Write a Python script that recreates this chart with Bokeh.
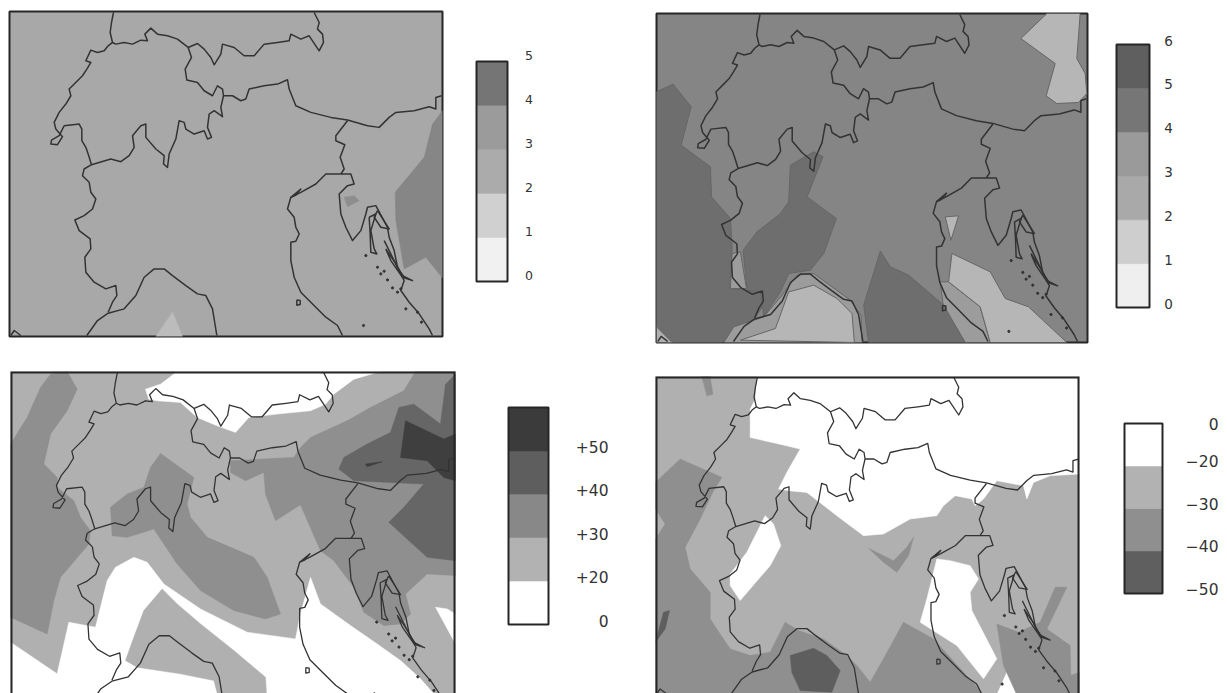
import numpy as np
from bokeh.plotting import figure
from bokeh.layouts import row, column
from bokeh.models import Spacer
from bokeh.core.properties import value
from bokeh.embed import file_html
from bokeh.resources import INLINE

# ---------- border outlines, in the map units of panel 1 ----------
MAP_X = (26, 1325)
MAP_Y = (32, 1008)
B_WEST = [(338,35),(332,65),(328,95),(335,125),(322,135),(310,150),(290,155),(270,148),(262,165),(255,180),(270,185),(258,205),(245,225),(230,240),(205,265),(210,285),(195,310),(175,335),(160,365),(165,385),(185,408),(170,432),(150,430),(152,418),(175,405),(190,375),(235,370),(243,385),(243,420),(255,440),(262,460),(272,492),(250,505),(245,525),(265,545),(270,575),(285,595),(275,625),(250,645),(222,658),(235,690),(268,715),(270,745),(252,770),(255,815),(280,845),(315,865),(345,855),(348,885),(335,905),(322,935)]
B_SWISS = [(272,492),(330,475),(360,483),(385,465),(400,440),(395,405),(420,375),(435,370),(435,410),(465,445),(490,465),(488,490),(500,500),(505,460),(525,415),(535,360),(550,365),(555,385),(580,400),(610,390),(620,415),(632,410),(620,380),(625,340),(640,330),(665,348),(660,320),(668,285),(665,265),(650,255),(635,285),(610,270),(590,245),(558,238),(553,205),(572,170),(562,140)]
B_NORTH = [(335,125),(345,130),(370,125),(395,130),(420,118),(440,120),(432,100),(450,82),(470,100),(500,105),(530,115),(562,140),(590,128),(610,145),(630,170),(640,192),(660,160),(665,130),(700,140),(730,165),(760,165),(790,130),(830,125),(865,120),(870,100),(900,115),(925,105),(955,150),(968,125),(965,100),(950,85),(955,65),(940,35)]
B_AUSTRIA = [(668,285),(695,285),(720,300),(735,295),(745,265),(790,255),(830,250),(860,237),(865,265),(885,315),(930,335),(990,350),(1040,358),(1100,375),(1135,380),(1165,350),(1185,335),(1240,330),(1285,318),(1305,325),(1305,290),(1322,285)]
B_SLOVENIA = [(1040,360),(1005,405),(1005,420),(1032,432),(1018,470),(1030,505),(1020,520)]
B_ITALY_E = [(1020,520),(975,520),(945,550),(900,575),(870,590),(860,625),(880,650),(885,680),(895,700),(885,722),(870,725),(870,780),(880,830),(900,875),(930,905),(975,950),(1010,975),(1025,1005)]
B_ISTRIA = [(1020,520),(1050,520),(1060,550),(1040,555),(1015,580),(1020,640),(1035,680),(1055,720),(1080,690),(1095,640),(1100,620),(1125,615),(1160,680),(1165,710),(1180,750),(1190,800),(1210,840),(1200,870),(1225,905),(1255,940),(1285,985),(1295,1005)]
B_LIGURIA = [(258,1005),(290,960),(322,938),(370,925),(405,885),(430,830),(460,805),(490,805),(515,825),(555,855),(590,880),(615,885),(635,925),(648,1005)]
B_ISLE_1 = [(1105,650),(1125,640),(1110,690),(1120,745),(1128,760),(1110,755),(1108,700),(1105,650)]
B_ISLE_2 = [(1130,630),(1165,685),(1140,680),(1120,650),(1130,630)]
B_ISLE_3 = [(1155,745),(1185,790),(1205,825),(1235,840),(1205,830),(1170,780),(1155,745)]
B_ISLE_4 = [(1150,720),(1175,770),(1195,810),(1210,830)]
B_LAKE = [(888,898),(898,900),(898,912),(888,914),(888,898)]
B_LAGOON = [(870,590),(900,565),(885,583),(870,590)]
B_CORNER = [(30,1005),(40,990),(60,1005)]
BORDERS = [B_WEST, B_SWISS, B_NORTH, B_AUSTRIA, B_SLOVENIA, B_ITALY_E, B_ISTRIA, B_LIGURIA,
           B_ISLE_1, B_ISLE_2, B_ISLE_3, B_ISLE_4, B_LAKE, B_LAGOON, B_CORNER]
ISLET_X = [1095,1130,1140,1150,1160,1175,1190,1200,1215,1250,1262,1088]
ISLET_Y = [765,800,820,812,838,862,875,865,925,935,965,975]

# ---------- panel 1: 0..5 ----------
P1_BASE = "#a8a8a8"
P1_REGIONS = [
    ("#868686", [(1325,330),(1295,370),(1270,470),(1183,575),(1185,660),(1210,805),(1275,770),(1325,832)]),
    ("#bcbcbc", [(465,1008),(515,935),(545,1008)]),
    ("#8e8e8e", [(1030,590),(1060,585),(1075,600),(1040,618)]),
]
P1_BANDS = ["#f1f1f1", "#d0d0d0", "#ababab", "#9b9b9b", "#757575"]
P1_TICKS = [0, 1, 2, 3, 4, 5]
P1_LABELS = ["0", "1", "2", "3", "4", "5"]

# ---------- panel 2: 0..6 ----------
P2_BASE = "#858585"
P2_REGIONS = [
    ("#6e6e6e", [(18,260),(68,237),(122,305),(92,420),(180,485),(183,575),(240,640),(245,730),(238,850),(280,855),(335,860),(335,905),(310,945),(250,985),(215,1012),(50,1012),(18,965)]),
    ("#b0b0b0", [(18,965),(65,1012),(18,1012)]),
    ("#6e6e6e", [(420,480),(490,440),(518,455),(470,575),(558,640),(520,745),(480,795),(415,805),(390,860),(340,935),(330,860),(290,855),(278,735),(320,680),(390,625),(415,590)]),
    ("#9c9c9c", [(245,745),(270,740),(288,850),(240,850)]),
    ("#b6b6b6", [(1190,25),(1290,25),(1280,160),(1305,205),(1310,265),(1285,292),(1220,295),(1188,272),(1215,175),(1112,100)]),
    ("#b6b6b6", [(885,635),(925,632),(902,705)]),
    ("#9c9c9c", [(870,830),(895,830),(990,905),(1020,1012),(945,1012),(880,910)]),
    ("#b6b6b6", [(905,745),(1020,800),(1065,880),(1135,905),(1250,1012),(1020,1012),(990,905),(895,830)]),
    ("#6e6e6e", [(690,738),(720,785),(775,810),(880,900),(945,1012),(655,1012),(640,900)]),
    ("#9c9c9c", [(440,810),(490,805),(600,885),(632,930),(635,1012),(220,1012),(250,965),(340,935),(395,870)]),
    ("#b6b6b6", [(490,840),(560,880),(605,925),(612,1012),(270,1005),(375,970),(415,860)]),
]
P2_BANDS = ["#efefef", "#cecece", "#a9a9a9", "#9a9a9a", "#767676", "#5f5f5f"]
P2_TICKS = [0, 1, 2, 3, 4, 5, 6]
P2_LABELS = ["0", "1", "2", "3", "4", "5", "6"]

# ---------- panel 3: 0..+50 ----------
P3_BASE = "#b0b0b0"
P3_REGIONS = [
    ("#ffffff", [(435,85),(480,70),(530,32),(1140,32),(1060,55),(1000,100),(975,130),(930,150),(830,160),(745,170),(705,215),(650,195),(590,170),(540,125),(470,120),(445,115)]),
    ("#ffffff", [(400,590),(440,605),(490,670),(600,745),(740,815),(885,835),(900,760),(930,650),(960,730),(1050,795),(1130,850),(1200,900),(1260,955),(1330,1034),(30,1034),(30,845),(170,940),(205,785),(285,800),(320,660),(345,620)]),
    ("#ffffff", [(1305,740),(1340,745),(1365,760),(1365,850)]),
    ("#b0b0b0", [(485,685),(530,730),(600,790),(700,870),(795,950),(800,1034),(660,1034),(640,960),(540,940),(410,920),(375,900),(400,830),(430,750)]),
    ("#8f8f8f", [(150,40),(200,32),(230,85),(200,150),(150,220),(130,310),(170,350),(170,380),(220,420),(240,470),(270,510),(265,550),(180,650),(160,720),(140,820),(30,770),(30,250),(80,170),(120,80)]),
    ("#8f8f8f", [(480,278),(580,350),(560,430),(570,470),(620,530),(760,590),(800,650),(840,760),(795,775),(700,750),(600,690),(530,610),(460,505),(380,530),(335,525),(330,440),(380,400),(430,380),(450,320)]),
    ("#8f8f8f", [(690,300),(880,290),(900,260),(930,230),(1040,180),(1110,140),(1210,90),(1245,32),(1365,32),(1365,645),(1280,640),(1215,700),(1230,760),(1200,790),(1150,795),(1090,755),(1060,680),(1000,600),(960,570),(925,490),(900,432),(825,480),(795,400),(790,335),(735,360),(690,335)]),
    ("#666666", [(1015,325),(1030,290),(1100,250),(1170,215),(1195,140),(1240,130),(1320,190),(1335,70),(1365,40),(1365,600),(1280,590),(1165,485),(1210,440),(1270,370),(1170,365),(1060,360)]),
    ("#3f3f3f", [(1215,180),(1330,235),(1365,220),(1365,360),(1330,350),(1280,300),(1200,290)]),
    ("#3f3f3f", [(1095,310),(1145,303),(1100,318)]),
]
P3_BANDS = ["#ffffff", "#b2b2b2", "#888888", "#5e5e5e", "#3b3b3b"]
P3_TICKS = [0, 1, 2, 3, 4]
P3_LABELS = ["0", "+20", "+30", "+40", "+50"]

# ---------- panel 4: 0..-50 ----------
P4_BASE = "#b0b0b0"
P4_REGIONS = [
    ("#ffffff", [(320,32),(1288,32),(1288,325),(1200,330),(1150,350),(1130,400),(1120,360),(1040,345),(1000,400),(975,420),(965,400),(915,390),(880,420),(860,450),(780,460),(700,505),(640,510),(560,450),(470,380),(415,375),(385,370),(410,320),(450,250),(400,238),(300,215),(300,130),(315,100)]),
    ("#ffffff", [(345,450),(370,475),(392,540),(360,600),(270,705),(240,660),(240,625),(290,560),(330,480)]),
    ("#ffffff", [(860,580),(900,585),(960,600),(985,640),(960,680),(965,735),(1040,880),(1000,940),(920,840),(810,770),(830,700)]),
    ("#ffffff", [(1070,920),(1110,988),(1040,988)]),
    ("#8f8f8f", [(16,350),(90,280),(215,335),(190,375),(150,460),(105,545),(120,610),(180,680),(180,760),(240,850),(300,870),(360,860),(405,770),(445,795),(520,820),(590,870),(620,900),(660,950),(700,880),(760,770),(850,820),(990,975),(1000,988),(16,988),(16,520),(45,475),(16,430)]),
    ("#8f8f8f", [(1040,775),(1105,800),(1170,770),(1215,665),(1250,665),(1190,790),(1260,840),(1262,930),(1288,920),(1288,988),(1100,988),(1060,900)]),
    ("#8f8f8f", [(655,548),(730,585),(770,545),(790,515),(775,570),(740,620),(700,590)]),
    ("#8f8f8f", [(155,32),(180,32),(188,85),(170,90)]),
    ("#5e5e5e", [(420,870),(490,848),(530,870),(570,915),(545,980),(450,975),(425,920)]),
    ("#5e5e5e", [(16,830),(40,740),(58,735),(45,790)]),
]
P4_BANDS = ["#5f5f5f", "#8f8f8f", "#b2b2b2", "#ffffff"]
P4_TICKS = [0, 1, 2, 3, 3.88]
P4_LABELS = ["\u221250", "\u221240", "\u221230", "\u221220", "0"]


def map_panel(w, h, nx, ny, clip_y, base, regions, region_line=None, lw=1.5):
    """frame of w*h px; native coordinates nx, ny; ny is the full height, clip_y where the page cuts it."""
    cut = clip_y is not None
    y_bottom = clip_y if cut else ny[1]
    p = figure(width=w + 4, height=h + 2 + (0 if cut else 2), output_backend="svg", toolbar_location=None,
               x_range=(nx[0], nx[1]), y_range=(y_bottom, ny[0]),
               min_border_left=2, min_border_right=2, min_border_top=2, min_border_bottom=0 if cut else 2,
               x_axis_location=None, y_axis_location=None,
               background_fill_color=base, border_fill_color="white",
               outline_line_color=None if cut else "#262626", outline_line_width=2)
    p.grid.visible = False
    for col, pts in regions:
        xs, ys = zip(*pts)
        p.patch(list(xs), list(ys), fill_color=col, line_color=region_line or col, line_width=1 if region_line else 0.5)
    sx = (nx[1] - nx[0]) / (MAP_X[1] - MAP_X[0])
    sy = (ny[1] - ny[0]) / (MAP_Y[1] - MAP_Y[0])
    mx = [[nx[0] + (a - MAP_X[0]) * sx for a, _ in seg] for seg in BORDERS]
    my = [[ny[0] + (b - MAP_Y[0]) * sy for _, b in seg] for seg in BORDERS]
    p.multi_line(mx, my, line_color="#333333", line_width=lw, line_join="round")
    p.scatter([nx[0] + (a - MAP_X[0]) * sx for a in ISLET_X], [ny[0] + (b - MAP_Y[0]) * sy for b in ISLET_Y],
              size=2.2, color="#333333")
    if cut:
        p.line([nx[0], nx[0], nx[1], nx[1]], [y_bottom, ny[0], ny[0], y_bottom], line_color="#262626", line_width=4)
    return p


def bar_panel(left, top, w, h, bar_l, bar_r, bar_t, bar_b, bands, ticks, labels,
              label_x, align, size, y_off):
    """figure at page px (left, top) with size w*h, holding a colour bar in band units."""
    n = len(bands)
    upx = (bar_b - bar_t) / n
    xpx = bar_r - bar_l
    p = figure(width=w, height=h, output_backend="svg", toolbar_location=None,
               x_range=((left - bar_l) / xpx, (left + w - bar_l) / xpx),
               y_range=(-(top + h - bar_b) / upx, n + (bar_t - top) / upx),
               min_border=0, x_axis_location=None, y_axis_location=None,
               outline_line_color=None, border_fill_color="white", background_fill_color="white")
    p.grid.visible = False
    idx = list(range(n))
    p.quad(left=0, right=1, bottom=idx, top=[i + 1 for i in idx], fill_color=bands, line_color=bands, line_width=0.5)
    p.quad(left=[0], right=[1], bottom=[0], top=[n], fill_color=None, line_color="#262626", line_width=2)
    xt = (label_x - bar_l) / xpx
    p.text([xt] * len(ticks), ticks, text=labels, text_align=align, text_baseline="middle",
           y_offset=y_off, text_font=value("DejaVu Sans"), text_font_size=size, text_color="#333333")
    return p


def build_row(items, row_top, start=0):
    kids, cur = [], start
    for left, top, w, fig in sorted(items, key=lambda t: t[0]):
        if left > cur:
            kids.append(Spacer(width=left - cur, height=1))
        col = []
        if top > row_top:
            col.append(Spacer(width=1, height=top - row_top))
        col.append(fig)
        kids.append(column(*col))
        cur = left + w
    return row(*kids)


m1 = map_panel(433, 325, (26, 1325), (32, 1008), None, P1_BASE, P1_REGIONS)
m2 = map_panel(431, 329, (18, 1312), (25, 1012), None, P2_BASE, P2_REGIONS, region_line="#666666")
m3 = map_panel(445, 322, (30, 1365), (32, 1034), 999, P3_BASE, P3_REGIONS, lw=1.3)
m4 = map_panel(424, 317, (16, 1288), (32, 988), 984, P4_BASE, P4_REGIONS, lw=1.3)

b1 = bar_panel(470, 45, 75, 245, 476, 507, 61, 281, P1_BANDS, P1_TICKS, P1_LABELS, 528.5, "center", "12.5px", -6)
b2 = bar_panel(1110, 28, 75, 290, 1116, 1149, 44, 307, P2_BANDS, P2_TICKS, P2_LABELS, 1168, "center", "13.5px", -4)
b3 = bar_panel(500, 395, 115, 240, 508, 548, 407, 624, P3_BANDS, P3_TICKS, P3_LABELS, 608, "right", "15.5px", -4)
b4 = bar_panel(1115, 410, 104, 195, 1124, 1162, 423, 593, P4_BANDS, P4_TICKS, P4_LABELS, 1218, "right", "15.5px", -5)

ROW1_TOP, ROW1_H, ROW2_TOP = 9, 335, 369
r1 = build_row([(7, 9, 437, m1), (470, 45, 75, b1), (654, 11, 435, m2), (1110, 28, 75, b2)], ROW1_TOP)
r2 = build_row([(8, 369, 449, m3), (500, 395, 115, b3), (653, 374, 428, m4), (1115, 410, 104, b4)], ROW2_TOP)

layout = column(Spacer(width=1, height=ROW1_TOP), r1, Spacer(width=1, height=ROW2_TOP - ROW1_TOP - ROW1_H), r2)
open("out.html", "w").write(file_html(layout, INLINE))
